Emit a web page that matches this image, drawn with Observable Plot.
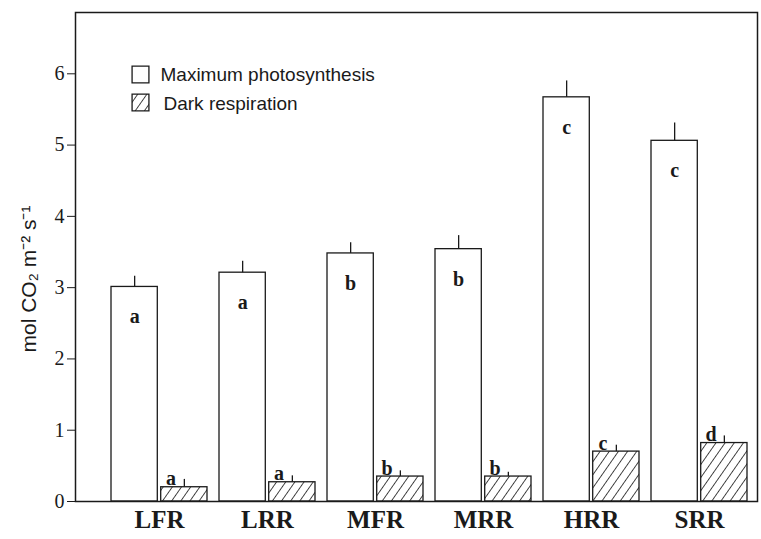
<!DOCTYPE html>
<html><head><meta charset="utf-8">
<script src="https://cdn.jsdelivr.net/npm/d3@7"></script>
<script src="https://cdn.jsdelivr.net/npm/@observablehq/plot@0.6"></script>
<style>body{margin:0;background:#fff}</style>
</head><body><div id="chart"></div>
<script>
const groups = ["LFR","LRR","MFR","MRR","HRR","SRR"];
const maxPhoto = [3.01,3.21,3.48,3.54,5.67,5.06];
const maxPhotoErr = [0.15,0.16,0.15,0.19,0.23,0.25];
const maxPhotoLetters = ["a","a","b","b","c","c"];
const darkResp = [0.20,0.27,0.35,0.35,0.70,0.82];
const darkRespErr = [0.11,0.09,0.08,0.06,0.09,0.10];
const darkRespLetters = ["a","a","b","b","c","d"];
const legendLabels = ["Maximum photosynthesis","Dark respiration"];
const yTicks = [0,1,2,3,4,5,6];
const yLabel = "mol CO\u2082 m\u207B\u00B2 s\u207B\u00B9";

const rows = groups.map((g,i)=>({group:g, photo:maxPhoto[i], photoErr:maxPhotoErr[i], photoL:maxPhotoLetters[i],
  dark:darkResp[i], darkErr:darkRespErr[i], darkL:darkRespLetters[i]}));

const xRange = [110, 748], padIn = 0.11;
const step = (xRange[1]-xRange[0])/(groups.length - padIn);
const bw = step*(1-padIn);
const half = bw/2, gap = 1.5;
const off = (half+gap)/2;

const ink = "#1a1a1a";
const serif = "Liberation Serif, Times New Roman, serif";
const sans = "Liberation Sans, Arial, Helvetica, sans-serif";

const svg = Plot.plot({
  width: 761, height: 539,
  marginLeft: 75, marginRight: 4, marginTop: 12, marginBottom: 38,
  style: {background: "#fff", color: ink},
  x: {domain: groups, range: xRange, paddingInner: padIn, paddingOuter: 0, axis: null},
  y: {domain: [0, 6.86], axis: null},
  marks: [
    Plot.barY(rows, {x: "group", y: "photo", fill: "#fff", stroke: ink, strokeWidth: 1.3, insetRight: half+gap}),
    Plot.barY(rows, {x: "group", y: "dark", fill: "url(#hatch)", stroke: ink, strokeWidth: 1.3, insetLeft: half+gap}),
    Plot.ruleX(rows, {x: "group", y1: "photo", y2: d=>d.photo+d.photoErr, dx: -off, stroke: ink, strokeWidth: 1.3}),
    Plot.ruleX(rows, {x: "group", y1: "dark", y2: d=>d.dark+d.darkErr, dx: off, stroke: ink, strokeWidth: 1.3}),
    Plot.text(rows, {x: "group", y: "photo", text: "photoL", dx: -off, dy: 30, fontFamily: serif, fontWeight: "bold", fontSize: 20, fill: ink}),
    Plot.text(rows, {x: "group", y: "dark", text: "darkL", dx: gap+10, dy: -2, lineAnchor: "bottom", fontFamily: serif, fontWeight: "bold", fontSize: 20, fill: ink}),
    Plot.axisY({ticks: yTicks, tickFormat: d3.format("d"), tickSize: 8, tickPadding: 3, fontSize: 20, fontFamily: serif, label: null, stroke: ink, fill: ink}),
    Plot.axisX({tickSize: 0, tickPadding: 9, fontSize: 25, fontWeight: "bold", fontFamily: serif, label: null, fill: ink}),
    Plot.text([yLabel], {frameAnchor: "left", textAnchor: "middle", lineAnchor: "middle", rotate: -90, dx: -46, dy: 22, fontFamily: sans, fontSize: 21, fill: ink}),
    Plot.frame({stroke: ink, strokeWidth: 1.5}),
    Plot.dot([legendLabels[0]], {frameAnchor: "top-left", dx: 65, dy: 62, symbol: "square", r: 9.5, fill: "#fff", stroke: ink, strokeWidth: 1.3}),
    Plot.dot([legendLabels[1]], {frameAnchor: "top-left", dx: 65, dy: 90, symbol: "square", r: 9.5, fill: "url(#hatch)", stroke: ink, strokeWidth: 1.3}),
    Plot.text([legendLabels[0]], {frameAnchor: "top-left", dx: 85, dy: 62, textAnchor: "start", lineAnchor: "middle", fontFamily: sans, fontSize: 19, fill: ink}),
    Plot.text([legendLabels[1]], {frameAnchor: "top-left", dx: 88, dy: 91, textAnchor: "start", lineAnchor: "middle", fontFamily: sans, fontSize: 19, fill: ink})
  ]
});

const ns = "http://www.w3.org/2000/svg";
const defs = document.createElementNS(ns, "defs");
const pat = document.createElementNS(ns, "pattern");
pat.setAttribute("id", "hatch");
pat.setAttribute("patternUnits", "userSpaceOnUse");
pat.setAttribute("width", "7.5");
pat.setAttribute("height", "10");
pat.setAttribute("patternTransform", "rotate(35)");
const bg = document.createElementNS(ns, "rect");
bg.setAttribute("width", "7.5"); bg.setAttribute("height", "10"); bg.setAttribute("fill", "#fff");
const ln = document.createElementNS(ns, "line");
ln.setAttribute("x1", "0"); ln.setAttribute("y1", "0"); ln.setAttribute("x2", "0"); ln.setAttribute("y2", "10");
ln.setAttribute("stroke", ink); ln.setAttribute("stroke-width", "1.6");
pat.appendChild(bg); pat.appendChild(ln);
defs.appendChild(pat);
svg.insertBefore(defs, svg.firstChild);
document.getElementById("chart").appendChild(svg);
</script>
</body></html>
